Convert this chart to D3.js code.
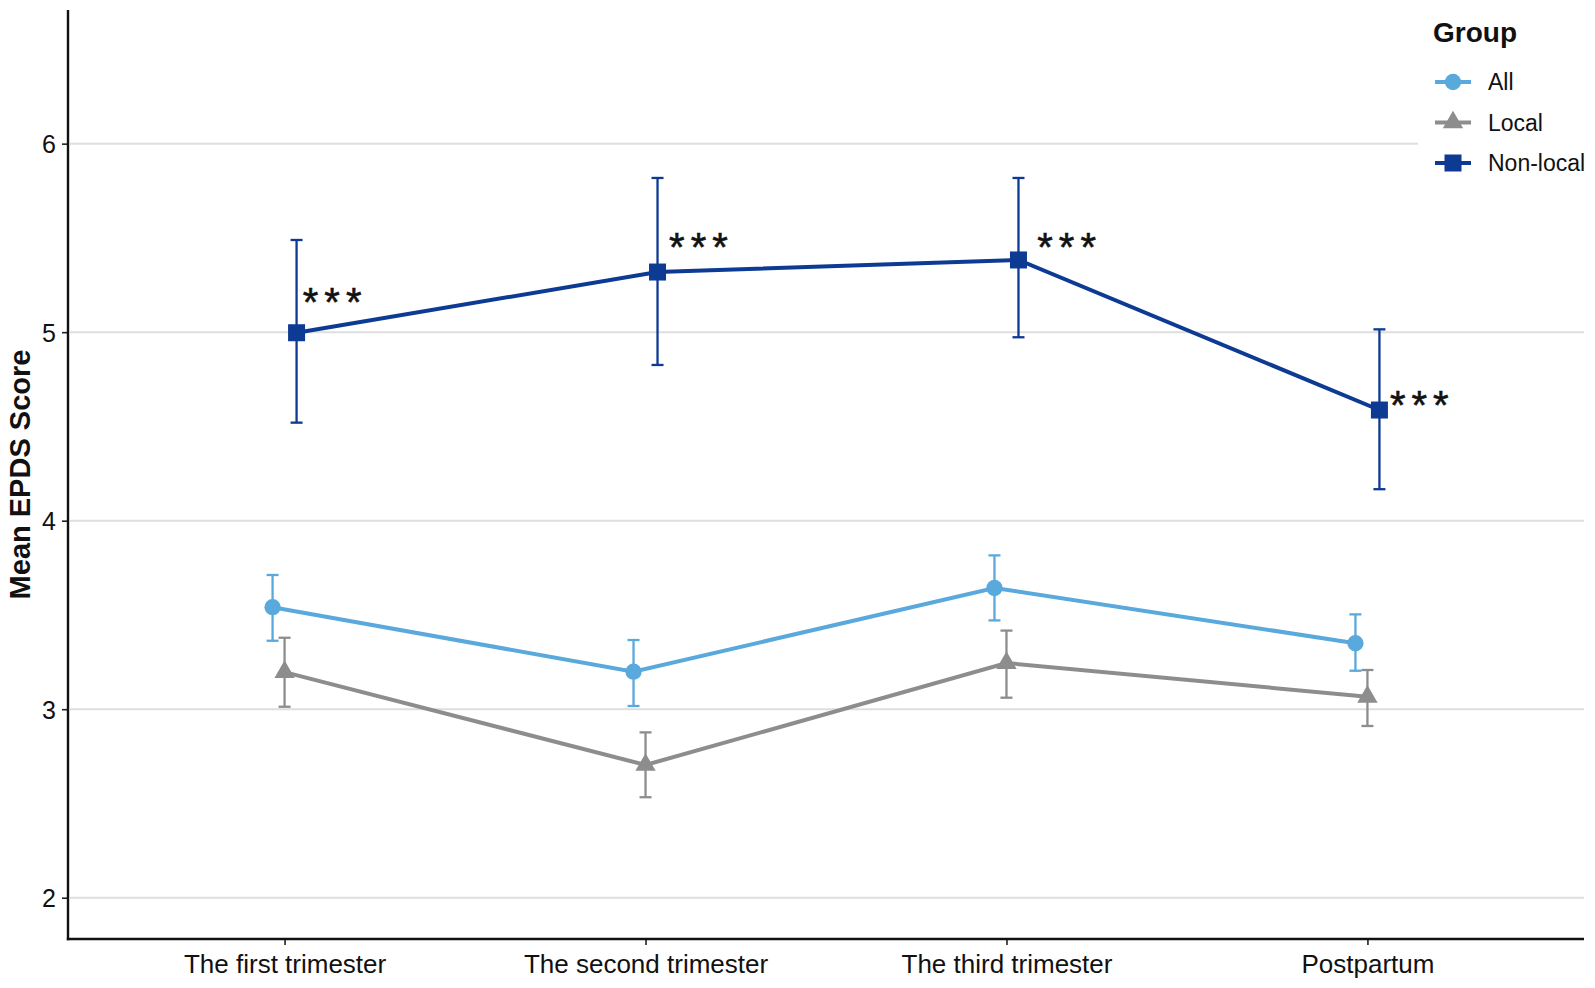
<!DOCTYPE html>
<html>
<head>
<meta charset="utf-8">
<script src="https://cdn.jsdelivr.net/npm/d3@7"></script>
<style>
  html, body { margin: 0; padding: 0; background: #fff; }
  svg { display: block; font-family: "Liberation Sans", Arial, sans-serif; }
</style>
</head>
<body>
<svg id="chart" width="1595" height="988"></svg>
<script>
// ---- data ----
const categories = ["The first trimester", "The second trimester", "The third trimester", "Postpartum"];
const groups = ["All", "Local", "Non-local"];

const allMean  = [3.541, 3.199, 3.643, 3.350];
const allLow   = [3.363, 3.017, 3.471, 3.204];
const allHigh  = [3.712, 3.367, 3.816, 3.503];

const localMean = [3.197, 2.704, 3.245, 3.066];
const localLow  = [3.013, 2.533, 3.061, 2.911];
const localHigh = [3.379, 2.877, 3.417, 3.208];

const nonlocalMean = [4.997, 5.319, 5.383, 4.587];
const nonlocalLow  = [4.520, 4.826, 4.973, 4.167];
const nonlocalHigh = [5.489, 5.818, 5.818, 5.015];

const yTicks = [2, 3, 4, 5, 6];
const sigLabels = ["***", "***", "***", "***"];
const sigY = [5.21, 5.50, 5.50, 4.66];          // label centre (score units)
const sigXOffset = [0.14, 0.155, 0.175, 0.152]; // offset from category (category units)

// ---- layout ----
const svg = d3.select("#chart");
const plotL = 68, plotR = 1584, plotT = 10, plotB = 939;

const x = d3.scalePoint().domain(categories).range([plotL, plotR]).padding(0.6);
const y = d3.scaleLinear().domain([1.781, 6.709]).range([plotB, plotT]);

const colors = { "All": "#5aa9dc", "Local": "#8d8d8d", "Non-local": "#0d3a93" };
const dodge = { "All": -12, "Local": 0, "Non-local": 12 };

const series = [
  { name: "All", mean: allMean, low: allLow, high: allHigh },
  { name: "Local", mean: localMean, low: localLow, high: localHigh },
  { name: "Non-local", mean: nonlocalMean, low: nonlocalLow, high: nonlocalHigh }
];

// gridlines
svg.append("g").selectAll("line").data(yTicks).join("line")
  .attr("x1", plotL + 2).attr("x2", plotR)
  .attr("y1", d => y(d)).attr("y2", d => y(d))
  .attr("stroke", "#dedede").attr("stroke-width", 2);

// axes
const yAxis = svg.append("g").attr("transform", `translate(${plotL},0)`)
  .call(d3.axisLeft(y).tickValues(yTicks).tickFormat(d3.format("d")).tickSize(6).tickPadding(6));
const xAxis = svg.append("g").attr("transform", `translate(0,${plotB})`)
  .call(d3.axisBottom(x).tickSize(6).tickPadding(10));
[yAxis, xAxis].forEach(a => {
  a.select(".domain").remove();
  a.selectAll(".tick line").attr("stroke", "#222").attr("stroke-width", 1.6);
  a.selectAll(".tick text").attr("fill", "#111").style("font-family", '"Liberation Sans", Arial, sans-serif');
});
yAxis.selectAll(".tick text").style("font-size", "25px").attr("dy", "0.36em");
xAxis.selectAll(".tick text").style("font-size", "26px").attr("dy", "0.71em");

svg.append("line").attr("x1", plotL).attr("x2", plotL).attr("y1", plotT).attr("y2", plotB + 1.2)
  .attr("stroke", "#111").attr("stroke-width", 2.4);
svg.append("line").attr("x1", plotL - 1.2).attr("x2", plotR).attr("y1", plotB).attr("y2", plotB)
  .attr("stroke", "#111").attr("stroke-width", 2.4);

// y title (centred on the panel)
svg.append("text")
  .attr("transform", `translate(30,${(plotT + plotB) / 2}) rotate(-90)`)
  .attr("text-anchor", "middle")
  .style("font-size", "29px").style("font-weight", "bold").attr("fill", "#111")
  .text("Mean EPDS Score");

// markers
function marker(g, name, size) {
  if (name === "All") {
    g.append("circle").attr("r", size * 0.48);
  } else if (name === "Local") {
    g.append("path").attr("d", d3.symbol(d3.symbolTriangle, size * size * 0.62)());
  } else {
    g.append("rect").attr("x", -size / 2).attr("y", -size / 2).attr("width", size).attr("height", size);
  }
}

series.forEach(s => {
  const g = svg.append("g");
  const col = colors[s.name];
  const px = i => x(categories[i]) + dodge[s.name];
  const idx = d3.range(categories.length);

  // error bars
  idx.forEach(i => {
    g.append("line").attr("x1", px(i)).attr("x2", px(i))
      .attr("y1", y(s.low[i])).attr("y2", y(s.high[i]))
      .attr("stroke", col).attr("stroke-width", 2.3);
    [s.low[i], s.high[i]].forEach(v => {
      g.append("line").attr("x1", px(i) - 6).attr("x2", px(i) + 6)
        .attr("y1", y(v)).attr("y2", y(v))
        .attr("stroke", col).attr("stroke-width", 2.3);
    });
  });

  // line
  g.append("path")
    .attr("d", d3.line().x(i => px(i)).y(i => y(s.mean[i]))(idx))
    .attr("fill", "none").attr("stroke", col).attr("stroke-width", 4);

  // points
  idx.forEach(i => {
    const m = g.append("g").attr("transform", `translate(${px(i)},${y(s.mean[i])})`).attr("fill", col);
    marker(m, s.name, 17);
  });
});

// significance labels
sigLabels.forEach((t, i) => {
  const cx = x(categories[i]) + sigXOffset[i] * x.step();
  svg.append("text")
    .attr("x", cx).attr("y", y(sigY[i]) + 23)
    .attr("text-anchor", "middle")
    .style("font-size", "40px").style("letter-spacing", "6px")
    .attr("stroke", "#111").attr("stroke-width", 0.6)
    .attr("fill", "#111")
    .text(t);
});

// legend
const lg = svg.append("g");
lg.append("rect").attr("x", 1418).attr("y", 0).attr("width", 177).attr("height", 186).attr("fill", "#fff");
lg.append("text").attr("x", 1433).attr("y", 42)
  .style("font-size", "28px").style("font-weight", "bold").attr("fill", "#111").text("Group");
groups.forEach((name, i) => {
  const yy = 82 + i * 40.5;
  const row = lg.append("g").attr("transform", `translate(0,${yy})`);
  row.append("line").attr("x1", 1435).attr("x2", 1471).attr("y1", 0).attr("y2", 0)
    .attr("stroke", colors[name]).attr("stroke-width", 4);
  const m = row.append("g").attr("transform", "translate(1453,0)").attr("fill", colors[name]);
  marker(m, name, 17);
  row.append("text").attr("x", 1488).attr("y", 0).attr("dy", "0.36em")
    .style("font-size", "23px").attr("fill", "#111").text(name);
});
</script>
</body>
</html>
